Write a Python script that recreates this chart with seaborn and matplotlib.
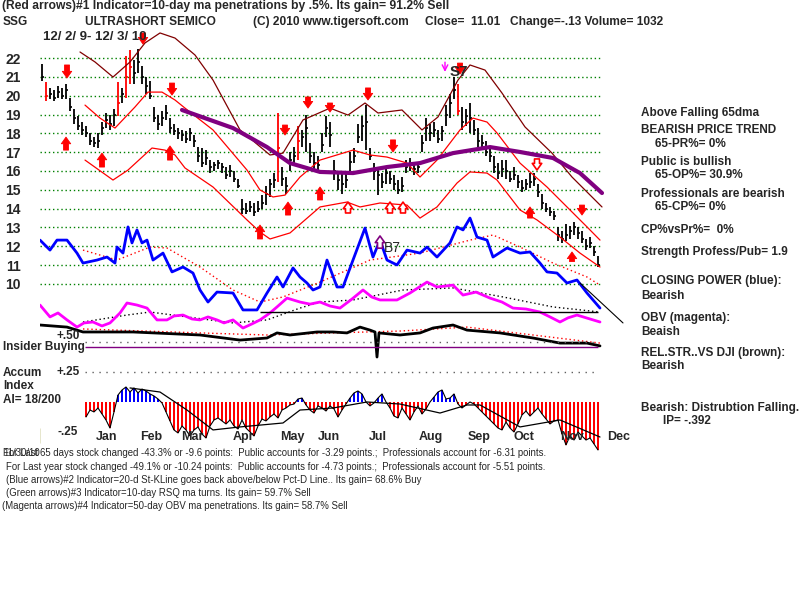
import numpy as np
import seaborn as sns
import matplotlib.pyplot as plt

# ---- daily price bars (one bar per ~2 trading days), Dec 2 2009 - Dec 3 2010
close = [21.0, 20.0, 20.1, 19.9, 20.2, 20.0, 20.3, 19.4, 18.8, 18.4,
         18.2, 18.0, 17.6, 17.5, 17.6, 18.3, 18.7, 18.5, 19.0, 19.6,
         20.1, 21.0, 21.5, 21.2, 21.8, 21.0, 20.5, 20.0, 18.8, 18.5,
         18.8, 19.1, 18.3, 18.1, 18.0, 17.9, 17.7, 18.0, 17.6, 16.8,
         16.4, 16.7, 16.2, 16.3, 16.4, 16.2, 15.8, 16.0, 15.6, 15.2,
         14.0, 13.9, 14.1, 13.8, 14.0, 14.3, 14.8, 15.3, 15.5, 17.2,
         15.6, 15.2, 16.6, 16.8, 17.6, 17.8, 18.3, 16.8, 16.4, 16.3,
         17.4, 18.3, 17.9, 16.0, 15.5, 15.3, 15.5, 16.5, 16.8, 17.8,
         18.4, 18.6, 16.8, 16.0, 15.8, 15.4, 15.9, 15.6, 15.3, 15.0,
         15.2, 16.2, 16.3, 16.1, 16.2, 17.5, 18.3, 18.0, 18.2, 17.7,
         18.1, 19.0, 19.6, 20.3, 19.2, 18.6, 18.9, 18.8, 18.2, 17.6,
         17.5, 17.0, 16.8, 16.2, 15.9, 16.1, 16.0, 15.6, 15.8, 15.4,
         15.1, 15.3, 15.4, 15.6, 14.9, 14.3, 14.0, 13.8, 13.6, 12.6,
         12.4, 12.6, 12.8, 13.0, 12.7, 12.4, 12.0, 12.2, 11.7, 11.0]
high = [21.7, 20.7, 20.4, 20.3, 20.5, 20.4, 20.6, 19.9, 19.3, 18.9,
        18.6, 18.4, 18.0, 17.8, 18.0, 18.6, 19.1, 19.0, 19.3, 20.7,
        20.4, 22.1, 22.4, 21.9, 22.5, 21.6, 21.0, 20.8, 19.4, 19.0,
        19.2, 19.5, 18.8, 18.5, 18.3, 18.2, 18.1, 18.3, 17.9, 17.3,
        17.2, 17.1, 16.6, 16.5, 16.6, 16.4, 16.2, 16.3, 16.0, 15.6,
        14.5, 14.3, 14.4, 14.3, 14.4, 14.7, 15.2, 15.6, 15.9, 19.1,
        16.2, 15.7, 17.0, 17.3, 18.4, 18.2, 19.0, 17.5, 17.0, 16.8,
        18.0, 18.9, 18.6, 16.6, 16.0, 15.9, 16.0, 17.0, 17.2, 18.5,
        18.9, 19.5, 17.2, 16.4, 16.2, 15.9, 16.2, 16.0, 15.8, 15.5,
        15.7, 16.6, 16.7, 16.4, 16.5, 17.9, 18.8, 18.5, 18.6, 18.2,
        18.4, 19.5, 20.1, 21.0, 20.6, 19.4, 19.3, 19.6, 18.7, 18.3,
        17.9, 17.6, 17.2, 16.8, 16.4, 16.6, 16.6, 16.0, 16.2, 15.8,
        15.5, 15.6, 15.9, 15.9, 15.3, 14.8, 14.3, 14.1, 13.9, 13.0,
        12.8, 13.2, 13.1, 13.3, 13.0, 12.8, 12.4, 12.5, 12.0, 11.5]
low = [20.8, 19.7, 19.8, 19.7, 19.9, 19.8, 19.8, 19.2, 18.5, 18.2,
       17.9, 17.8, 17.4, 17.3, 17.2, 17.9, 18.3, 18.2, 18.4, 18.9,
       19.6, 19.9, 20.6, 20.6, 21.2, 20.6, 20.1, 19.8, 18.6, 18.2,
       18.4, 18.7, 18.0, 17.9, 17.7, 17.6, 17.5, 17.6, 17.3, 16.5,
       16.2, 16.3, 15.9, 16.0, 16.1, 15.9, 15.6, 15.7, 15.4, 15.1,
       13.7, 13.7, 13.8, 13.6, 13.8, 14.0, 14.2, 14.6, 15.1, 15.4,
       15.2, 14.8, 16.0, 16.4, 16.6, 17.3, 17.0, 16.4, 16.0, 15.9,
       17.0, 17.8, 17.3, 15.5, 15.0, 14.8, 15.1, 16.0, 16.4, 17.5,
       17.6, 17.1, 16.6, 15.5, 14.7, 15.1, 15.3, 15.3, 15.0, 14.8,
       14.9, 15.9, 16.0, 15.8, 15.9, 17.0, 17.6, 17.6, 17.8, 17.5,
       17.6, 18.4, 18.8, 19.8, 19.0, 18.2, 18.4, 18.0, 17.9, 17.3,
       17.2, 16.8, 16.5, 15.9, 15.6, 15.7, 15.6, 15.4, 15.5, 15.1,
       14.9, 15.0, 15.1, 15.2, 14.6, 14.0, 13.8, 13.6, 13.4, 12.3,
       12.2, 12.3, 12.4, 12.6, 12.4, 12.2, 11.8, 11.9, 11.5, 10.9]
red_bars = [1, 19, 21, 22, 59, 64, 104]

# ---- bands and moving average (bar index, price)
upper_x = [9.5, 13.25, 17.75, 22, 25.75, 29.5, 33.25, 38.25, 42.75, 49.5, 57, 60.25, 65.25, 72,
           76.5, 80.75, 84, 90, 95, 99, 104, 107, 110.75, 115, 120.75, 127.5, 132.5, 140]
upper_y = [22.32, 21.79, 20.99, 21.79, 22.80, 23.33, 23.06, 22.16, 20.83, 18.18, 16.85, 16.95, 18.71, 19.34,
           18.97, 19.61, 19.08, 19.24, 18.18, 18.87, 20.83, 21.63, 21.36, 20.14, 18.34, 16.95, 15.68, 14.09]
band_hi_x = [10.75, 14.5, 18.25, 23.25, 26.5, 30, 33.25, 35.75, 42.75, 51.25, 54.5, 57.75, 60.75, 64.5, 69.5,
             77.75, 82, 86.25, 91.25, 94.5, 98.75, 104.5, 107.75, 111.25, 113.75, 119.5, 126.25, 131.25, 136.25, 139.5]
band_hi_y = [19.50, 18.81, 18.28, 19.40, 20.19, 20.19, 19.77, 19.34, 18.18, 16.05, 14.99, 14.62, 14.72, 15.68, 16.58,
             17.11, 16.85, 16.74, 16.42, 15.68, 16.58, 18.18, 18.81, 18.60, 18.02, 16.42, 15.15, 14.09, 13.03, 12.33]
band_lo_x = [10.75, 17.75, 21.5, 27.5, 30.75, 33.25, 35.75, 42.75, 51.25, 54.5, 57, 62, 69.5, 76.25, 79.5,
             84.5, 91.25, 94.5, 98.75, 103.75, 107, 111.25, 113.75, 119.5, 123.75, 129.5, 134.5, 139.5]
band_lo_y = [16.58, 15.52, 16.05, 17.22, 17.11, 16.85, 16.16, 15.15, 13.40, 12.76, 12.39, 12.71, 14.09, 14.35, 14.09,
             14.30, 14.19, 13.50, 14.09, 15.36, 15.95, 15.89, 15.52, 13.93, 13.40, 12.49, 11.64, 10.90]
ma65_x = [35, 47.75, 56.25, 62, 69.5, 77.75, 86.25, 94.5, 102.75, 112, 119.5, 127.75, 134.5, 140]
ma65_y = [19.24, 18.28, 17.27, 16.42, 15.95, 15.89, 16.21, 16.42, 16.95, 17.27, 17.01, 16.69, 15.89, 14.83]

# ---- closing power (blue), OBV (magenta), rel. strength (black), drawn on the price scale
cp_x = [-0.5, 2, 3.75, 6.25, 8.75, 10.25, 13.75, 16.25, 18.25, 18.75, 20.25, 21.5, 22.5, 23.75, 25, 26.25,
        27.75, 30.25, 32.5, 35.25, 37.75, 39.5, 41.5, 43.75, 47.75, 50.25, 53.75, 56.25, 58.75, 60.25,
        62.75, 64.5, 66.25, 67.75, 69.5, 71.25, 73.75, 75.25, 77.75, 80.75, 82.75, 84.5, 86.25, 88.75,
        91.25, 94.5, 96.25, 98.75, 102, 103.75, 105.25, 107, 108.75, 111.25, 112.75, 116.25, 119.5, 122,
        124.5, 126.25, 128.75, 131.25, 133.75, 136.25, 139.5]
cp_y = [12.33, 11.80, 12.33, 12.33, 11.64, 11.11, 11.27, 11.43, 11.11, 11.96, 11.64, 13.03, 12.18, 12.87, 12.18, 12.33,
        11.27, 11.64, 10.64, 10.90, 10.58, 9.68, 9.04, 9.57, 9.52, 8.62, 8.62, 9.52, 10.37, 9.84,
        10.85, 10.37, 10.05, 9.68, 9.84, 11.27, 9.84, 9.84, 11.27, 12.97, 11.43, 12.33, 11.27, 11.01,
        11.80, 11.64, 11.96, 11.43, 12.18, 13.03, 12.87, 13.50, 12.49, 12.33, 11.43, 11.91, 11.64, 11.70,
        11.11, 10.64, 10.58, 10.05, 10.21, 9.52, 8.72]
cp_ma_x = [10.25, 18.75, 27, 31.25, 39.5, 47.75, 54.5, 60.25, 69.5, 82, 94.5, 107, 112.75, 119.5, 127.75, 136.25, 139.5]
cp_ma_y = [11.80, 11.27, 11.96, 11.91, 10.90, 9.68, 9.04, 9.31, 10.10, 11.27, 11.64, 12.33, 12.60, 11.96, 11.11, 10.37, 9.94]
obv_x = [-0.5, 2, 4, 6.25, 8.75, 10.5, 12.75, 15, 17, 19.5, 21.25, 23.75, 26.25, 28.75, 31.25, 33, 35.25,
         37.5, 39.5, 41.5, 43.75, 45.5, 47.75, 50.25, 52.5, 54.5, 57, 58.75, 61.25, 64.5, 67, 69.5, 72,
         74.5, 77.5, 80.25, 82.5, 84.5, 88.75, 92, 96.25, 98.75, 102.75, 105.25, 108.5, 112, 115,
         117.75, 121, 124.5, 127, 129.5, 131.5, 133.75, 137, 139.5]
obv_y = [8.88, 8.25, 8.46, 8.09, 7.71, 7.93, 7.98, 7.77, 7.93, 8.46, 8.99, 8.88, 8.72, 8.09, 8.09, 8.30, 8.35,
         8.14, 8.09, 8.25, 8.09, 7.93, 8.09, 7.66, 7.88, 8.09, 8.46, 8.78, 9.25, 9.04, 8.93, 9.04, 8.83,
         8.72, 9.20, 9.68, 9.30, 9.15, 9.15, 9.52, 10.10, 9.84, 9.94, 9.41, 9.57, 9.25, 9.04,
         8.72, 8.67, 8.51, 8.25, 7.98, 8.20, 8.35, 8.14, 7.98]
obv_ma_x = [10.25, 21.25, 27, 36.25, 47.75, 56.25, 64.5, 69.5, 77.75, 90.25, 102.75, 115.25, 127.75, 139.5]
obv_ma_y = [7.98, 8.35, 8.51, 8.25, 7.93, 8.09, 8.72, 9.04, 9.15, 9.68, 9.79, 9.31, 8.78, 8.51]
rs_x = [-0.5, 6.25, 10.25, 22.75, 39.5, 49.5, 56.25, 58.75, 62, 68.75, 72.75, 76.25, 79.5, 82, 83.25,
        83.75, 84.25, 89.5, 94.5, 97.75, 102.75, 106.25, 114.5, 122.75, 129.5, 136.25, 139.5]
rs_y = [7.82, 7.71, 7.45, 7.45, 7.29, 7.02, 7.13, 7.40, 7.29, 7.45, 7.45, 7.40, 7.71, 7.55, 7.45,
        6.12, 7.40, 7.29, 7.40, 7.66, 7.82, 7.55, 7.40, 7.13, 6.86, 6.86, 6.71]
rs_ma_x = [10.25, 39.5, 56.25, 72.75, 89.5, 106.25, 122.75, 139.5]
rs_ma_y = [7.61, 7.40, 7.29, 7.40, 7.50, 7.71, 7.29, 6.86]

# ---- accumulation index, one value per bar from bar 11 on
ai_start = 11
ai = [-0.125, -0.067, -0.083, -0.05, -0.10, -0.15, -0.217, -0.083, 0.058, 0.10,
      0.125, 0.083, 0.117, 0.075, 0.108, 0.092, 0.067, 0.05, 0.025, -0.008,
      -0.083, -0.158, -0.233, -0.258, -0.20, -0.233, -0.283, -0.233, -0.208, -0.267,
      -0.30, -0.20, -0.15, -0.133, -0.158, -0.183, -0.15, -0.20, -0.225, -0.15,
      -0.217, -0.25, -0.283, -0.20, -0.142, -0.158, -0.125, -0.10, -0.133, -0.067,
      -0.05, -0.025, -0.017, 0.025, 0.033, -0.025, -0.067, -0.092, -0.033, -0.05,
      -0.075, -0.033, -0.058, -0.125, -0.067, -0.017, 0.033, 0.075, 0.092, 0.067,
      0.0, -0.033, -0.008, 0.033, 0.067, 0.0, -0.05, -0.117, -0.133, -0.05,
      -0.10, -0.15, -0.083, -0.033, -0.10, -0.058, 0.0, 0.042, 0.083, 0.10,
      0.025, 0.033, 0.067, -0.017, -0.05, -0.025, 0.0, -0.017, -0.05, -0.083,
      -0.117, -0.15, -0.183, -0.217, -0.233, -0.167, -0.217, -0.25, -0.183, -0.108,
      -0.075, -0.117, -0.083, -0.05, -0.10, -0.142, -0.183, -0.158, -0.15, -0.267,
      -0.358, -0.283, -0.317, -0.25, -0.283, -0.317, -0.30, -0.35, -0.40]
ai_ma_x = [22, 29.5, 36.25, 42.75, 49.5, 60.25, 64.5, 72.75, 81.25, 89.5, 99.5, 106.25, 109.5, 119.5, 129.5, 139.5]
ai_ma_y = [0.117, 0.083, -0.067, -0.233, -0.208, -0.175, -0.067, -0.05, 0.0, -0.017, -0.092, -0.025, -0.025, -0.208, -0.15, -0.292]

months = ["Jan", "Feb", "Mar", "Apr", "May", "Jun", "Jul", "Aug", "Sep", "Oct", "Nov", "Dec"]
month_pos = [16.25, 27.25, 37.5, 50.25, 62.5, 71.75, 84, 97.25, 109.25, 120.5, 132.5, 144.25]
price_ticks = list(range(10, 23))

# ---- signal arrows (bar index, tail price, head price)
down_arrows = [(6.25, 21.63, 20.94), (25.25, 23.33, 22.74), (32.5, 20.67, 20.03), (60.75, 18.44, 17.91),
               (66.5, 19.93, 19.34), (72, 19.61, 19.13), (81.5, 20.41, 19.77), (87.75, 17.65, 17.01),
               (104.5, 21.73, 21.15), (135, 14.19, 13.66)]
up_arrows = [(6, 17.11, 17.80), (15, 16.21, 16.95), (32, 16.58, 17.33), (54.5, 12.39, 13.13),
             (61.5, 13.66, 14.35), (69.5, 14.46, 15.15), (122, 13.50, 14.09), (132.5, 11.19, 11.70)]
double_down = [(123.75, 16.64, 16.05)]
double_up = [(76.5, 13.77, 14.35), (87, 13.77, 14.35), (90.25, 13.77, 14.35)]

sns.set_style("white")
plt.rcParams["font.family"] = ["Liberation Sans", "DejaVu Sans"]

fig = plt.figure(figsize=(8, 6), dpi=100)
fig.patch.set_facecolor("white")
ax = fig.add_axes([0.05, 0.40, 0.75, 0.5583])
ax2 = fig.add_axes([0.05, 0.2417, 0.75, 0.2083])
for a in (ax, ax2):
    a.patch.set_alpha(0)
    for s in a.spines.values():
        s.set_visible(False)
    a.set_xticks([])
    a.set_xlim(-0.5, 149.5)

idx = np.arange(len(close))
n_last = idx[-1]

# grid
ax.hlines(price_ticks, -0.5, n_last + 0.5, colors="#008000", linestyles=(0, (1, 2)), lw=1)

# bars
bar_col = ["red" if i in red_bars else "black" for i in idx]
ax.vlines(idx, low, high, colors=bar_col, lw=1.3)
ax.hlines(close, idx, idx + 0.5, colors=bar_col, lw=1.2)

# bands
sns.lineplot(x=upper_x, y=upper_y, ax=ax, color="#800000", lw=0.9, sort=False, estimator=None)
sns.lineplot(x=band_hi_x, y=band_hi_y, ax=ax, color="#ff0000", lw=0.9, sort=False, estimator=None)
sns.lineplot(x=band_lo_x, y=band_lo_y, ax=ax, color="#ff0000", lw=0.9, sort=False, estimator=None)
sns.lineplot(x=ma65_x, y=ma65_y, ax=ax, color="#800080", lw=3, sort=False, estimator=None)

# indicators
sns.lineplot(x=cp_ma_x, y=cp_ma_y, ax=ax, color="#ff0000", lw=1, linestyle=(0, (1, 2)), sort=False, estimator=None)
sns.lineplot(x=cp_x, y=cp_y, ax=ax, color="#0000ff", lw=2, sort=False, estimator=None)
sns.lineplot(x=obv_ma_x, y=obv_ma_y, ax=ax, color="black", lw=1, linestyle=(0, (1, 2)), sort=False, estimator=None)
sns.lineplot(x=obv_x, y=obv_y, ax=ax, color="#ff00ff", lw=2, sort=False, estimator=None)
ax.hlines(8.51, 54.5, n_last, colors="black", lw=1)
ax.plot([134.5, 145.25], [10.05, 7.93], color="black", lw=0.8, clip_on=False)
sns.lineplot(x=rs_ma_x, y=rs_ma_y, ax=ax, color="#ff0000", lw=1, linestyle=(0, (1, 2)), sort=False, estimator=None)
sns.lineplot(x=rs_x, y=rs_y, ax=ax, color="black", lw=2, sort=False, estimator=None)


# arrows
def arrow(a, x, y0, y1, fc, ec, lw=0.6):
    a.annotate("", xy=(x, y1), xytext=(x, y0),
               arrowprops=dict(arrowstyle="simple,head_width=0.85,head_length=0.6,tail_width=0.45",
                               mutation_scale=8, shrinkA=0, shrinkB=0,
                               fc=fc, ec=ec, lw=lw), annotation_clip=False)


for x, y0, y1 in down_arrows + up_arrows:
    arrow(ax, x, y0, y1, "red", "red")
for x, y0, y1 in double_down + double_up:
    arrow(ax, x, y0, y1, "white", "red", 1.2)
ax.annotate("", xy=(100.75, 21.26), xytext=(100.75, 21.78),
            arrowprops=dict(arrowstyle="->", color="#ff00ff", lw=1, shrinkA=0, shrinkB=0))
arrow(ax, 84.5, 11.9, 12.55, "white", "#800080", 1.2)
ax.text(104.25, 21.26, "S7", fontsize=11, fontweight="bold", ha="center", va="center")
ax.text(87.5, 11.91, "B7", fontsize=10, ha="center", va="center")

ax.set_ylim(5.962, 23.7525)
ax.set_yticks(price_ticks)
ax.set_yticklabels([str(t) for t in price_ticks], fontsize=10, fontweight="bold")
ax.tick_params(axis="y", length=0, pad=14)
ax.set_xlabel("")
ax.set_ylabel("")

# accumulation index panel
ai_idx = np.arange(ai_start, ai_start + len(ai))
ai_col = ["#0000ff" if v > 0 else "#ff0000" for v in ai]
ax2.bar(ai_idx, ai, width=0.5, color=ai_col, lw=0)
ax2.plot(ai_idx, ai, color="black", lw=0.8)
sns.lineplot(x=ai_ma_x, y=ai_ma_y, ax=ax2, color="black", lw=0.9, sort=False, estimator=None)
ax2.hlines(0.5, 10.75, n_last, colors="#606060", linestyles=(0, (1, 4)), lw=1)
ax2.hlines(0.458, 10.75, n_last, colors="#800080", lw=1)
ax2.hlines(0.25, 10.75, n_last, colors="#606060", linestyles=(0, (1, 4)), lw=1)
ax2.vlines(-0.75, -0.342, -0.217, colors="#808000", lw=1)
ax2.set_ylim(-0.4417, 0.6)
ax2.set_yticks([])
ax2.set_xlabel("")
ax2.set_ylabel("")
for m, p in zip(months, month_pos):
    ax2.text(p, -0.29, m, fontsize=9, fontweight="bold", ha="center", va="center", clip_on=False)


def ftext(x, y, s, **kw):
    kw.setdefault("fontweight", "bold")
    fig.text(x / 800, 1 - y / 600, s, va="center", **kw)


ftext(2, 6, "(Red arrows)#1 Indicator=10-day ma penetrations by .5%. Its gain= 91.2% Sell", fontsize=8.7)
ftext(3, 22, "SSG", fontsize=8.6)
ftext(85, 22, "ULTRASHORT SEMICO", fontsize=8.6)
ftext(253, 22, "(C) 2010 www.tigersoft.com", fontsize=8.6)
ftext(425, 22, "Close=  11.01   Change=-.13 Volume= 1032", fontsize=8.6)
ftext(43, 37, "12/ 2/ 9- 12/ 3/ 10", fontsize=9.5)

side = [(641, 113, "Above Falling 65dma"), (641, 130, "BEARISH PRICE TREND"), (655, 144, "65-PR%= 0%"),
        (641, 162, "Public is bullish"), (655, 175, "65-OP%= 30.9%"), (641, 194, "Professionals are bearish"),
        (655, 207, "65-CP%= 0%"), (641, 230, "CP%vsPr%=  0%"), (641, 252, "Strength Profess/Pub= 1.9"),
        (641, 281, "CLOSING POWER (blue):"), (641, 296, "Bearish"), (641, 318, "OBV (magenta):"),
        (641, 332, "Beaish"), (641, 353, "REL.STR..VS DJI (brown):"), (641, 366, "Bearish"),
        (641, 408, "Bearish: Distrubtion Falling."), (663, 421, "IP= -.392")]
for x, y, s in side:
    ftext(x, y, s, fontsize=8.5)

ftext(3, 347, "Insider Buying", fontsize=8.5)
ftext(80, 336, "+.50", fontsize=8.5, ha="right")
ftext(80, 372, "+.25", fontsize=8.5, ha="right")
ftext(78, 432, "-.25", fontsize=8.5, ha="right")
ftext(3, 373, "Accum", fontsize=8.5)
ftext(3, 386, "Index", fontsize=8.5)
ftext(3, 400, "AI= 18/200", fontsize=8.5)

bottom = [(3, 453, "11/30/10"), (3, 453, "For Last"),
          (40, 453, "65 days stock changed -43.3% or -9.6 points:  Public accounts for -3.29 points.;  "
                    "Professionals account for -6.31 points."),
          (6, 467, "For Last year stock changed -49.1% or -10.24 points:  Public accounts for -4.73 points.;  "
                   "Professionals account for -5.51 points."),
          (6, 480, "(Blue arrows)#2 Indicator=20-d St-KLine goes back above/below Pct-D Line.. Its gain= 68.6% Buy"),
          (6, 493, "(Green arrows)#3 Indicator=10-day RSQ ma turns. Its gain= 59.7% Sell"),
          (2, 506, "(Magenta arrows)#4 Indicator=50-day OBV ma penetrations. Its gain= 58.7% Sell")]
for x, y, s in bottom:
    ftext(x, y, s, fontsize=6.9, fontweight="normal")

fig.savefig("out.png", dpi=100)
